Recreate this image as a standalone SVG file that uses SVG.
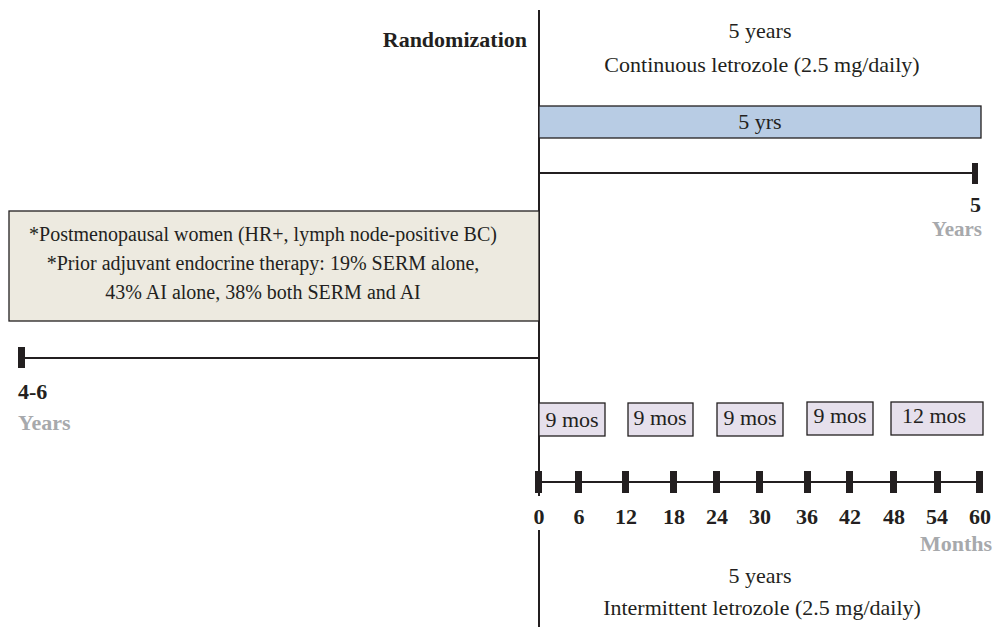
<svg xmlns="http://www.w3.org/2000/svg" width="994" height="629" viewBox="0 0 994 629">
<style>
.t{font-family:"Liberation Serif","Times New Roman",serif;font-size:22px;fill:#231f20}
.p{font-family:"Liberation Serif","Times New Roman",serif;font-size:20px;fill:#231f20}
.b{font-family:"Liberation Serif","Times New Roman",serif;font-size:22px;font-weight:bold;fill:#231f20}
.g{font-family:"Liberation Serif","Times New Roman",serif;font-size:21px;font-weight:bold;fill:#a7a9ac}
.ln{stroke:#231f20;stroke-width:2;fill:none}
.tk{fill:#231f20}
.mo{fill:#e6e0ec;stroke:#231f20;stroke-width:1.3}
</style>
<rect width="994" height="629" fill="#fff"/>
<g id="connectors">
<line class="ln" x1="539" y1="10" x2="539" y2="496"/>
<line class="ln" x1="539" y1="530" x2="539" y2="627"/>
<line class="ln" x1="539" y1="173" x2="976" y2="173"/>
<rect class="tk" x="972" y="163" width="6" height="21"/>
<line class="ln" x1="22" y1="358" x2="539" y2="358"/>
<rect class="tk" x="18" y="347" width="7" height="21"/>
<line class="ln" x1="539" y1="482" x2="980" y2="482"/>
<g class="tk">
<rect x="535" y="471" width="7" height="22"/>
<rect x="575" y="471" width="7" height="22"/>
<rect x="622" y="471" width="7" height="22"/>
<rect x="670" y="471" width="7" height="22"/>
<rect x="713" y="471" width="7" height="22"/>
<rect x="756" y="471" width="7" height="22"/>
<rect x="804" y="471" width="7" height="22"/>
<rect x="846" y="471" width="7" height="22"/>
<rect x="890" y="471" width="7" height="22"/>
<rect x="934" y="471" width="7" height="22"/>
<rect x="976" y="471" width="7" height="22"/>
</g>
</g>
<g id="randomization"><text class="b" x="527" y="47" text-anchor="end">Randomization</text></g>
<g id="continuous-label">
<text class="t" x="760" y="38" text-anchor="middle">5 years</text>
<text class="t" x="762" y="72" text-anchor="middle">Continuous letrozole (2.5 mg/daily)</text>
</g>
<g id="continuous-bar">
<rect x="539" y="106" width="442" height="32" fill="#b8cce4" stroke="#231f20" stroke-width="1.3"/>
<text class="t" x="760" y="129" text-anchor="middle">5 yrs</text>
</g>
<g id="years-5">
<text class="b" x="981" y="212" text-anchor="end">5</text>
<text class="g" x="982" y="236" text-anchor="end">Years</text>
</g>
<g id="population">
<rect x="9" y="211" width="530" height="110" fill="#edeae0" stroke="#231f20" stroke-width="1.3"/>
<text class="p" x="263" y="241" text-anchor="middle">*Postmenopausal women (HR+, lymph node-positive BC)</text>
<text class="p" x="263" y="270" text-anchor="middle">*Prior adjuvant endocrine therapy: 19% SERM alone,</text>
<text class="p" x="263" y="299" text-anchor="middle">43% AI alone, 38% both SERM and AI</text>
</g>
<g id="years-4-6">
<text class="b" x="18" y="399">4-6</text>
<text class="g" x="18" y="430" style="font-size:22px">Years</text>
</g>
<g id="mos1"><rect class="mo" x="539" y="403" width="66" height="33"/><text class="t" x="572" y="427" text-anchor="middle">9 mos</text></g>
<g id="mos2"><rect class="mo" x="628" y="403" width="65" height="33"/><text class="t" x="660" y="425" text-anchor="middle">9 mos</text></g>
<g id="mos3"><rect class="mo" x="717" y="403" width="66" height="33"/><text class="t" x="750" y="425" text-anchor="middle">9 mos</text></g>
<g id="mos4"><rect class="mo" x="807" y="402" width="66" height="33"/><text class="t" x="840" y="423" text-anchor="middle">9 mos</text></g>
<g id="mos5"><rect class="mo" x="891" y="402" width="92" height="33"/><text class="t" x="934" y="423" text-anchor="middle">12 mos</text></g>
<g id="month-labels">
<text class="b" x="539" y="524" text-anchor="middle">0</text>
<text class="b" x="579" y="524" text-anchor="middle">6</text>
<text class="b" x="626" y="524" text-anchor="middle">12</text>
<text class="b" x="674" y="524" text-anchor="middle">18</text>
<text class="b" x="717" y="524" text-anchor="middle">24</text>
<text class="b" x="760" y="524" text-anchor="middle">30</text>
<text class="b" x="807" y="524" text-anchor="middle">36</text>
<text class="b" x="850" y="524" text-anchor="middle">42</text>
<text class="b" x="894" y="524" text-anchor="middle">48</text>
<text class="b" x="937" y="524" text-anchor="middle">54</text>
<text class="b" x="980" y="524" text-anchor="middle">60</text>
<text class="g" x="992" y="551" text-anchor="end" style="font-size:22px">Months</text>
</g>
<g id="intermittent-label">
<text class="t" x="760" y="583" text-anchor="middle">5 years</text>
<text class="t" x="762" y="615" text-anchor="middle">Intermittent letrozole (2.5 mg/daily)</text>
</g>
</svg>
